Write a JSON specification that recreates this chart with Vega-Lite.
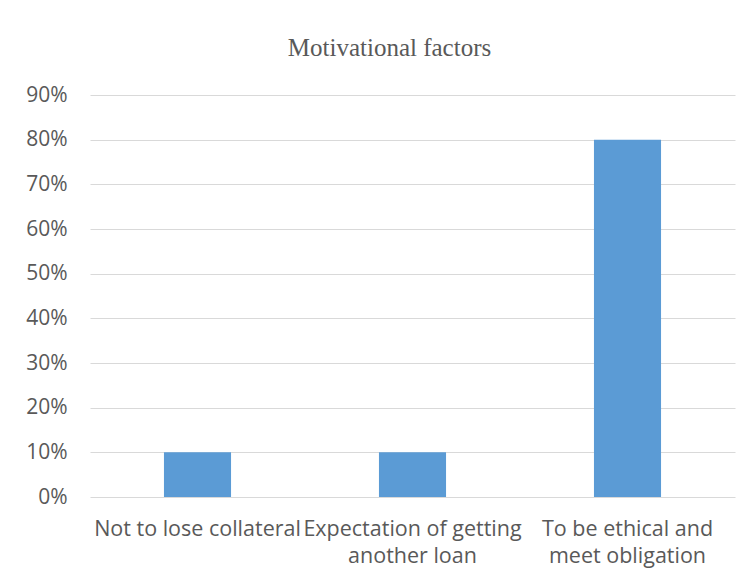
{
  "$schema": "https://vega.github.io/schema/vega-lite/v6.json",
  "width": 645,
  "height": 402,
  "autosize": {"type": "none"},
  "padding": {"left": 90, "top": 95, "right": 18, "bottom": 86},
  "background": "white",
  "title": {
    "text": "Motivational factors",
    "font": "Liberation Serif",
    "fontSize": 25,
    "fontWeight": "normal",
    "color": "#595959",
    "anchor": "middle",
    "frame": "group",
    "baseline": "alphabetic",
    "offset": 38,
    "dx": -23,
    "dy": 35
  },
  "data": {
    "values": [
      {"factor": "Not to lose collateral", "share": 0.10},
      {"factor": "Expectation of getting another loan", "share": 0.10},
      {"factor": "To be ethical and meet obligation", "share": 0.80}
    ]
  },
  "mark": {"type": "bar", "color": "#5b9bd5"},
  "encoding": {
    "x": {
      "field": "factor",
      "type": "nominal",
      "sort": null,
      "title": null,
      "scale": {"paddingInner": 0.688, "paddingOuter": 0.344},
      "axis": {
        "labelAngle": 0,
        "domain": false,
        "ticks": false,
        "labelPadding": 21,
        "labelFont": "Open Sans",
        "labelFontSize": 21.5,
        "labelColor": "#595959",
        "labelLimit": 0,
        "labelLineHeight": 27,
        "labelExpr": "datum.label == 'Expectation of getting another loan' ? ['Expectation of getting', 'another loan'] : datum.label == 'To be ethical and meet obligation' ? ['To be ethical and', 'meet obligation'] : datum.label"
      }
    },
    "y": {
      "field": "share",
      "type": "quantitative",
      "title": null,
      "scale": {"domain": [0, 0.9], "nice": false},
      "axis": {
        "values": [0, 0.1, 0.2, 0.3, 0.4, 0.5, 0.6, 0.7, 0.8, 0.9],
        "format": ".0%",
        "domain": false,
        "ticks": false,
        "grid": true,
        "gridColor": "#d9d9d9",
        "gridWidth": 1,
        "labelPadding": 23,
        "labelFont": "Open Sans",
        "labelFontSize": 21,
        "labelColor": "#595959"
      }
    }
  },
  "config": {
    "view": {"stroke": null}
  }
}
